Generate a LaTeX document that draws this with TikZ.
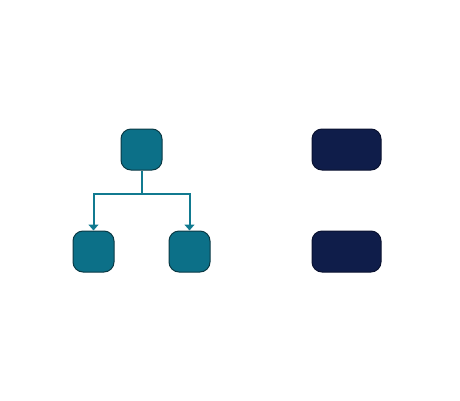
\documentclass[tikz,border=0pt]{standalone}
\usetikzlibrary{arrows.meta}
\definecolor{tealfill}{HTML}{0C7088}
\definecolor{tealedge}{HTML}{0A3A45}
\definecolor{navyfill}{HTML}{0F1D4A}
\definecolor{navyedge}{HTML}{0A1230}
\definecolor{linkcol}{HTML}{117A90}
\begin{document}
\begin{tikzpicture}[x=0.75pt,y=-0.75pt,
  tealbox/.style={draw=tealedge,fill=tealfill,line width=0.75pt,rounded corners=7.5pt,minimum width=30.75pt,minimum height=30.75pt,inner sep=0pt},
  navybox/.style={draw=navyedge,fill=navyfill,line width=0.75pt,rounded corners=7.5pt,minimum width=51.75pt,minimum height=30.75pt,inner sep=0pt},
  link/.style={draw=linkcol,line width=1.5pt},
  arr/.style={link,-{Triangle[width=7.5pt,length=4.5pt]}}]
\useasboundingbox (0,0) rectangle (460,400);
\node[tealbox] (top) at (141.5,149.5) {};
\node[tealbox] (bl) at (93.5,251.5) {};
\node[tealbox] (br) at (189.5,251.5) {};
\node[navybox] (n1) at (346.5,149.5) {};
\node[navybox] (n2) at (346.5,251.5) {};
\coordinate (j) at (141.5,194);
\draw[link] (top.south) -- (j);
\draw[arr] (j) -| (bl.north);
\draw[arr] (j) -| (br.north);
\end{tikzpicture}
\end{document}
